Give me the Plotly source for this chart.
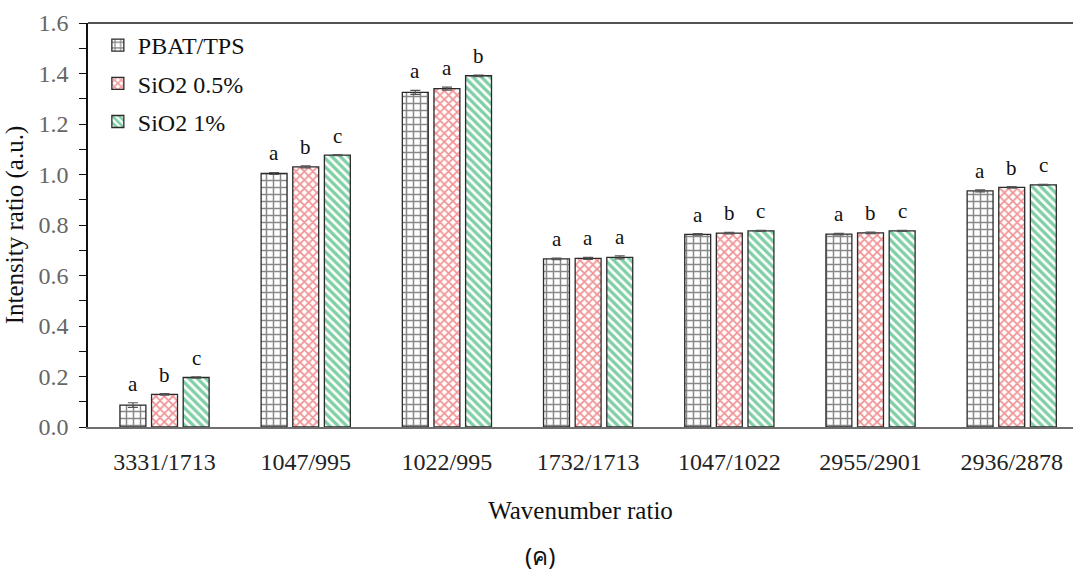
import plotly.graph_objects as go

# Wavenumber-ratio categories
categories = ["3331/1713", "1047/995", "1022/995", "1732/1713",
              "1047/1022", "2955/2901", "2936/2878"]

# Intensity ratios (a.u.) per formulation
pbat_tps = [0.087, 1.004, 1.325, 0.666, 0.763, 0.764, 0.935]
sio2_05 = [0.129, 1.030, 1.340, 0.668, 0.768, 0.769, 0.949]
sio2_1 = [0.196, 1.077, 1.391, 0.672, 0.777, 0.777, 0.959]

# Standard deviations
pbat_tps_err = [0.009, 0.004, 0.008, 0.003, 0.003, 0.003, 0.004]
sio2_05_err = [0.003, 0.004, 0.006, 0.004, 0.003, 0.003, 0.003]
sio2_1_err = [0.003, 0.002, 0.003, 0.006, 0.002, 0.002, 0.002]

# Significance letters
pbat_tps_sig = ["a", "a", "a", "a", "a", "a", "a"]
sio2_05_sig = ["b", "b", "a", "a", "b", "b", "b"]
sio2_1_sig = ["c", "c", "b", "a", "c", "c", "c"]

series = [
    ("PBAT/TPS", pbat_tps, pbat_tps_err, pbat_tps_sig, "+", "#111111", 7, 0.38),
    ("SiO2 0.5%", sio2_05, sio2_05_err, sio2_05_sig, "x", "#e3262a", 6, 0.5),
    ("SiO2 1%", sio2_1, sio2_1_err, sio2_1_sig, "\\", "#00a04c", 6, 0.55),
]

SERIF = "Liberation Serif, Times New Roman, serif"

fig = go.Figure()
annotations = []
slot_px = 31.6
for k, (name, vals, errs, sig, shape, col, psize, sol) in enumerate(series):
    fig.add_trace(go.Bar(
        name=name,
        x=categories,
        y=vals,
        legendgroup=name,
        marker=dict(
            color="white",
            line=dict(color="#2b2b2b", width=1.3),
            pattern=dict(shape=shape, fgcolor=col, bgcolor="white",
                         size=psize, solidity=sol),
        ),
        error_y=dict(type="data", array=errs, visible=True,
                     color="#555555", thickness=1.2, width=5),
    ))
    for c, v, e, s in zip(categories, vals, errs, sig):
        annotations.append(dict(
            x=c, y=v + e, xref="x", yref="y", text=s, showarrow=False,
            xanchor="center", yanchor="bottom",
            xshift=(k - 1) * slot_px, yshift=5,
            font=dict(family=SERIF, size=21, color="#111111"),
        ))

annotations.append(dict(
    x=0.459, y=-0.318, xref="paper", yref="paper", text="(ค)",
    showarrow=False, xanchor="center", yanchor="middle",
    font=dict(family="Noto Sans, sans-serif", size=24, color="#111111"),
))

fig.update_layout(
    width=1073, height=575,
    margin=dict(l=88, r=0, t=23, b=148),
    paper_bgcolor="white", plot_bgcolor="white",
    barmode="group", bargap=0.328, bargroupgap=0.18,
    showlegend=True,
    legend=dict(
        x=0.01, y=1.0, xanchor="left", yanchor="top",
        bgcolor="rgba(0,0,0,0)", tracegroupgap=4,
        font=dict(family=SERIF, size=24, color="#111111"),
        itemwidth=30,
    ),
    annotations=annotations,
    shapes=[dict(type="line", xref="paper", yref="paper",
                 x0=0, x1=1, y0=1, y1=1,
                 line=dict(color="#1a1a1a", width=1.5))],
)

fig.update_xaxes(
    type="category",
    range=[-0.542, 6.434],
    showline=True, linecolor="#6e6e6e", linewidth=1.5,
    ticks="", showgrid=False, zeroline=False,
    tickfont=dict(family=SERIF, size=24, color="#222222"),
    ticklabelstandoff=12,
    title=dict(text="Wavenumber ratio", standoff=28,
               font=dict(family=SERIF, size=25, color="#111111")),
)

fig.update_yaxes(
    range=[0, 1.6],
    tickmode="linear", tick0=0, dtick=0.2, tickformat=".1f",
    showline=True, linecolor="#111111", linewidth=1.5,
    ticks="outside", ticklen=7, tickwidth=1.2, tickcolor="#111111",
    minor=dict(dtick=0.1, ticks="outside", ticklen=7, tickwidth=1.2,
               tickcolor="#111111", showgrid=False),
    showgrid=False, zeroline=False,
    tickfont=dict(family=SERIF, size=24, color="#666666"),
    ticklabelstandoff=6,
    title=dict(text="Intensity ratio (a.u.)", standoff=8,
               font=dict(family=SERIF, size=25, color="#111111")),
)

fig.write_html("out.html")
